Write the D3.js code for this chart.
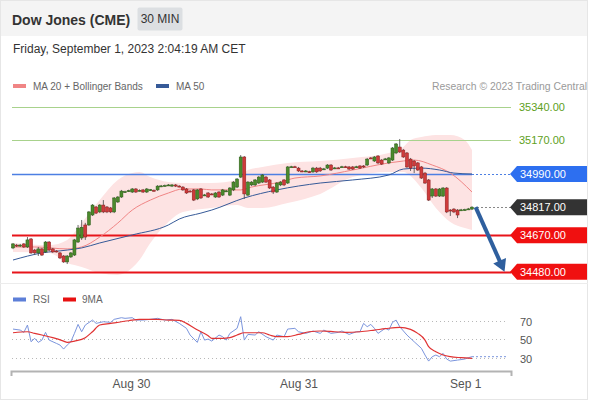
<!DOCTYPE html>
<html><head><meta charset="utf-8">
<script src="https://cdn.jsdelivr.net/npm/d3@7"></script>
<style>
body{margin:0;background:#fff;}
svg{display:block;font-family:"Liberation Sans",Arial,Helvetica,sans-serif;}
</style></head><body>
<svg id="c" width="590" height="400"></svg>
<script>
// ---------- DATA ----------
const titleText = "Dow Jones (CME)";
const periodText = "30 MIN";
const dateText = "Friday, September 1, 2023 2:04:19 AM CET";
const legendMain = ["MA 20 + Bollinger Bands", "MA 50"];
const legendRsi = ["RSI", "9MA"];
const creditText = "Research \u00a9 2023 Trading Central";

const tickIdx = [32.65, 79, 125.1];
const tickLabels = ["Aug 30", "Aug 31", "Sep 1"];

const open = [34604,34619,34614,34625,34609,34651,34593,34578,34599,34583,
34635,34599,34588,34578,34562,34531,34557,34567,34635,34656,
34724,34724,34776,34818,34792,34828,34818,34813,34792,34844,
34870,34896,34901,34896,34912,34904,34907,34896,34907,34905,
34907,34927,34929,34932,34927,34933,34927,34922,34912,34901,
34907,34860,34912,34880,34891,34886,34870,34896,34880,34901,
34880,34907,34922,34974,35079,34880,34933,34933,34943,34948,
34974,34959,34922,34896,34933,34959,34943,35027,35028,35021,
35006,35005,35002,35001,35021,35021,35016,35021,35037,35021,
35022,35027,35028,35027,35027,35027,35032,35032,35037,35074,
35058,35084,35063,35068,35048,35063,35100,35131,35115,35100,
35068,35058,35048,35027,34995,34959,34875,34912,34875,34875,
34917,34802,34807,34802,34802,34803,34807,34807];
const close = [34625,34614,34619,34609,34646,34578,34578,34599,34567,34635,
34593,34583,34586,34552,34531,34562,34578,34646,34708,34712,
34661,34792,34828,34786,34828,34792,34792,34792,34865,34870,
34901,34898,34903,34912,34896,34905,34896,34912,34908,34904,
34927,34928,34930,34933,34933,34927,34926,34907,34891,34900,
34854,34907,34865,34881,34870,34885,34891,34870,34907,34902,
34917,34948,34964,35079,34886,34948,34948,34959,34974,34985,
34948,34917,34896,34943,34948,34933,35027,35028,35027,35006,
35005,35006,35001,35021,35001,35006,35017,35037,35011,35022,
35021,35028,35027,35016,35016,35028,35021,35027,35068,35073,
35079,35048,35042,35069,35074,35126,35147,35105,35079,35027,
35021,35032,35011,34969,34943,34854,34912,34875,34912,34917,
34792,34801,34792,34776,34803,34804,34808,34817];
const high = [34630,34625,34625,34630,34661,34656,34599,34609,34604,34640,
34640,34604,34593,34583,34567,34567,34583,34651,34724,34750,
34735,34797,34833,34823,34833,34854,34823,34818,34870,34875,
34907,34903,34908,34917,34917,34910,34912,34917,34912,34910,
34932,34933,34935,34938,34938,34938,34932,34927,34917,34907,
34912,34912,34917,34886,34896,34891,34896,34901,34912,34907,
34922,34953,34969,35089,35084,34953,34953,34964,34980,34990,
34980,34964,34927,34948,34953,34964,35032,35033,35033,35027,
35011,35011,35007,35027,35027,35027,35022,35042,35042,35027,
35027,35033,35033,35032,35032,35033,35037,35037,35074,35079,
35084,35089,35068,35074,35079,35131,35152,35173,35121,35105,
35074,35063,35053,35032,35001,34964,34917,34917,34917,34922,
34922,34807,34812,34807,34808,34809,34813,34822];
const low = [34598,34609,34609,34604,34604,34573,34567,34562,34562,34578,
34588,34578,34580,34546,34526,34520,34552,34562,34630,34646,
34646,34719,34771,34781,34786,34786,34786,34786,34786,34839,
34865,34891,34896,34891,34891,34899,34891,34891,34902,34899,
34902,34922,34925,34928,34922,34922,34921,34902,34886,34895,
34849,34854,34860,34875,34865,34880,34865,34865,34875,34896,
34875,34901,34917,34969,34860,34875,34927,34927,34938,34943,
34943,34912,34886,34891,34927,34927,34938,35022,35022,35001,
35000,35000,34996,34996,34996,35001,35011,35016,35006,35016,
35016,35022,35022,35011,35011,35022,35016,35022,35032,35068,
35053,35042,35037,35063,35042,35058,35094,35100,35074,35021,
35006,34995,35006,34964,34938,34849,34865,34870,34870,34870,
34786,34771,34786,34760,34797,34798,34802,34802];

const ma50Idx = [0,8,15,19,24,33,43,46,52,55,64,73,85,94,104,108,113,118,122,127];
const ma50Val = [34541,34578,34593,34604,34630,34672,34724,34755,34786,34802,34865,34907,34943,34959,34985,35016,35021,35011,34995,34990];

const ma20Idx = [0,6,15,19,24,29,33,38,43,47,52,55,63,66,74,78,85,94,104,108,111,116,121,127];
const ma20Val = [34609,34609,34599,34609,34661,34734,34802,34854,34891,34912,34912,34907,34907,34922,34948,34969,34980,35011,35048,35058,35063,35037,34995,34896];

const bbIdx = [0,10,15,19,24,29,33,35,38,43,47,55,62,65,69,76,85,94,104,108,110,113,117,121,125,127];
const bbUpper = [34630,34619,34646,34734,34854,34959,34995,35001,34974,34948,34943,34943,34959,35011,35027,35048,35058,35074,35100,35131,35168,35183,35194,35194,35168,35115];
const bbLower = [34583,34578,34525,34505,34473,34463,34500,34541,34630,34740,34792,34813,34828,34813,34813,34839,34886,34974,35001,35001,34980,34917,34813,34740,34708,34698];

const rsiIdx = [0,2,3,4,5,6,7,8,9,10,12,13,14,15,16,17,18,19,20,22,23,25,27,28,30,31,33,34,36,38,40,42,44,46,48,49,51,52,53,54,55,57,58,59,60,62,63,64,65,67,68,70,72,73,75,76,78,79,81,83,85,86,88,90,91,93,95,96,97,98,99,100,101,103,104,105,106,107,109,111,113,114,115,116,117,118,119,120,121,123,125,126,127];
const rsiVal = [61.2,60.1,57.6,65.6,47.4,51.1,46.7,49.2,57.6,49.2,45.6,43.8,39.4,43.8,47.4,56.5,66.3,58.3,65.6,71.0,67.4,69.2,68.5,71.8,73.6,72.9,73.6,71.0,71.0,71.8,72.9,71.0,71.8,67.4,62.0,54.7,46.7,58.3,49.2,50.3,48.1,54.7,52.9,49.2,56.5,62.0,74.7,49.2,55.4,54.7,58.3,52.9,49.2,54.7,52.9,61.2,62.0,58.3,56.5,59.1,56.5,60.1,56.5,57.6,59.1,55.4,58.3,58.3,67.4,63.8,66.3,62.0,56.5,62.0,60.1,68.5,71.0,63.8,54.7,47.4,40.2,32.9,26.3,31.1,32.9,31.1,34.7,28.5,26.3,27.4,28.5,30.0,31.1];

const ma9Idx = [0,4,6,8,11,14,15,17,20,22,24,27,32,35,40,43,46,48,50,52,54,55,58,60,62,64,67,69,71,73,76,79,82,85,89,92,96,100,103,107,110,112,114,115,117,119,121,124,127];
const ma9Val = [57.2,58.3,56.5,54.7,51.8,48.1,46.7,48.1,51.8,58.3,65.6,67.4,70.3,71.8,71.8,71.0,70.7,67.4,62.7,58.3,54.0,51.1,51.1,51.8,54.7,57.2,57.2,57.2,54.7,52.9,52.9,55.4,58.3,59.1,58.3,57.6,58.3,60.1,61.6,63.1,60.9,56.5,49.2,42.0,36.5,32.9,31.1,30.0,29.2];

const levelPrices = [35340, 35170, 34990, 34817, 34670, 34480];
const levelKinds  = ["resist", "resist", "pivot", "last", "support", "support"];
const rsiLevels = [70, 50, 30];
const arrowFrom = [128, 34817];
const arrowTo = [136, 34480];

// ---------- DRAW ----------
const svg = d3.select("#c");
const FONT = '"Liberation Sans",Arial,Helvetica,sans-serif';

svg.append("rect").attr("x",0).attr("y",0).attr("width",590).attr("height",400).attr("fill","#fff");
svg.append("rect").attr("x",0).attr("y",0).attr("width",588).attr("height",36).attr("fill","#f4f4f4");
svg.append("rect").attr("x",0.5).attr("y",0.5).attr("width",587).attr("height",399)
  .attr("fill","none").attr("stroke","#e6e6e6");

svg.append("text").attr("x",12).attr("y",25).attr("font-size",14).attr("font-weight","bold")
  .attr("fill","#333").text(titleText);
svg.append("rect").attr("x",137.5).attr("y",7.5).attr("width",45).attr("height",23).attr("rx",2)
  .attr("fill","#dcdfe2");
svg.append("text").attr("x",160).attr("y",23.3).attr("text-anchor","middle").attr("font-size",12)
  .attr("fill","#333").text(periodText);
svg.append("text").attr("x",13).attr("y",52.5).attr("font-size",12).attr("fill","#333").text(dateText);

// legend
svg.append("rect").attr("x",13).attr("y",84).attr("width",13).attr("height",4).attr("fill","#f08585");
svg.append("text").attr("x",33).attr("y",89.5).attr("font-size",10).attr("fill","#666").text(legendMain[0]);
svg.append("rect").attr("x",156).attr("y",84).attr("width",13).attr("height",4).attr("fill","#365a98");
svg.append("text").attr("x",176).attr("y",89.5).attr("font-size",10).attr("fill","#666").text(legendMain[1]);
svg.append("text").attr("x",587).attr("y",89.5).attr("text-anchor","end").attr("font-size",10.4)
  .attr("fill","#9a9a9a").text(creditText);

// scales
const x = d3.scaleLinear().domain([0,127]).range([13,472]);
const y = d3.scaleLinear().domain([34480,35340]).range([271.7,107]);
const r = d3.scaleLinear().domain([30,70]).range([357.7,321]);
const XL = 12, XR = 511;

// Bollinger area
const bbData = bbIdx.map((d,i)=>({i:d,u:bbUpper[i],l:bbLower[i]}));
svg.append("path").datum(bbData)
  .attr("d", d3.area().x(d=>x(d.i)).y0(d=>y(d.l)).y1(d=>y(d.u)).curve(d3.curveMonotoneX))
  .attr("fill","#fde3e3");

// level lines
const lv = svg.append("g");
levelPrices.forEach((p,k)=>{
  const kind = levelKinds[k], yy = Math.round(y(p))+0.5;
  if (kind==="resist") {
    lv.append("line").attr("x1",XL).attr("x2",XR).attr("y1",yy).attr("y2",yy)
      .attr("stroke","#a8d28c").attr("stroke-width",1);
  } else if (kind==="pivot") {
    lv.append("line").attr("x1",XL).attr("x2",x(127)).attr("y1",yy).attr("y2",yy)
      .attr("stroke","#4d7fe3").attr("stroke-width",1.5);
    lv.append("line").attr("x1",x(127)).attr("x2",XR).attr("y1",yy).attr("y2",yy)
      .attr("stroke","#4d7fe3").attr("stroke-width",1.2).attr("stroke-dasharray","2,2");
  } else if (kind==="last") {
    lv.append("line").attr("x1",x(127)+5).attr("x2",XR).attr("y1",yy).attr("y2",yy)
      .attr("stroke","#888").attr("stroke-width",1).attr("stroke-dasharray","2,2");
  } else {
    lv.append("line").attr("x1",XL).attr("x2",XR).attr("y1",yy).attr("y2",yy)
      .attr("stroke","#e8141a").attr("stroke-width",2);
  }
});

// MA lines
const lineGen = d3.line().x(d=>x(d[0])).y(d=>y(d[1])).curve(d3.curveMonotoneX);
svg.append("path").datum(ma20Idx.map((d,i)=>[d,ma20Val[i]])).attr("d",lineGen)
  .attr("fill","none").attr("stroke","#f08585").attr("stroke-width",1);
svg.append("path").datum(ma50Idx.map((d,i)=>[d,ma50Val[i]])).attr("d",lineGen)
  .attr("fill","none").attr("stroke","#365a98").attr("stroke-width",1);

// candles
const cg = svg.append("g");
open.forEach((o,i)=>{
  const c = close[i], up = c >= o;
  const cx = x(i);
  cg.append("line").attr("x1",cx).attr("x2",cx).attr("y1",y(high[i])).attr("y2",y(low[i]))
    .attr("stroke","#444").attr("stroke-width",0.8);
  const top = y(Math.max(o,c)), bot = y(Math.min(o,c));
  cg.append("rect").attr("x",cx-1.5).attr("width",3).attr("y",top).attr("height",Math.max(1,bot-top))
    .attr("fill", up ? "#4b8a2c" : "#cf3b3b")
    .attr("stroke", up ? "#2b5a18" : "#8a1e1e").attr("stroke-width",0.5);
});

// forecast arrow
(function(){
  const x1 = x(arrowFrom[0]), y1 = y(arrowFrom[1]), x2 = x(arrowTo[0]), y2 = y(arrowTo[1]);
  const dx = x2-x1, dy = y2-y1, L = Math.hypot(dx,dy), ux = dx/L, uy = dy/L;
  const hl = 12, hw = 7;
  svg.append("line").attr("x1",x1).attr("y1",y1).attr("x2",x2-ux*(hl-2)).attr("y2",y2-uy*(hl-2))
    .attr("stroke","#2f5f9e").attr("stroke-width",4);
  const bx = x2-ux*hl, by = y2-uy*hl;
  svg.append("path").attr("d",`M${x2},${y2}L${bx-uy*hw},${by+ux*hw}L${bx+uy*hw},${by-ux*hw}Z`)
    .attr("fill","#2f5f9e");
})();

// price tags
levelPrices.forEach((p,k)=>{
  const kind = levelKinds[k], yy = y(p);
  const label = p.toFixed(2);
  if (kind==="resist") {
    svg.append("text").attr("x",519).attr("y",yy+4).attr("font-size",11).attr("fill","#5e9f22").text(label);
    return;
  }
  const fill = kind==="pivot" ? "#2d6ff0" : kind==="last" ? "#333333" : "#f01010";
  const h = 8;
  svg.append("path").attr("d",`M510,${yy}L517,${yy-h}L587,${yy-h}L587,${yy+h}L517,${yy+h}Z`).attr("fill",fill);
  svg.append("text").attr("x",520).attr("y",yy+4).attr("font-size",11).attr("fill","#fff").text(label);
});

// separator
svg.append("line").attr("x1",0).attr("x2",588).attr("y1",283.5).attr("y2",283.5).attr("stroke","#ececec");

// RSI legend
svg.append("rect").attr("x",13).attr("y",297.5).attr("width",13).attr("height",4).attr("fill","#5d7fd8");
svg.append("text").attr("x",33).attr("y",303).attr("font-size",10).attr("fill","#666").text(legendRsi[0]);
svg.append("rect").attr("x",63).attr("y",297.5).attr("width",13).attr("height",4).attr("fill","#e81010");
svg.append("text").attr("x",82).attr("y",303).attr("font-size",10).attr("fill","#666").text(legendRsi[1]);

// RSI levels
rsiLevels.forEach(v=>{
  const yy = Math.round(r(v))+0.5;
  svg.append("line").attr("x1",XL).attr("x2",508).attr("y1",yy).attr("y2",yy)
    .attr("stroke","#b8b8b8").attr("stroke-width",1).attr("stroke-dasharray","1,3");
  svg.append("text").attr("x",520).attr("y",yy+4).attr("font-size",11).attr("fill","#555").text(v);
});

// RSI lines
const rLine = d3.line().x(d=>x(d[0])).y(d=>r(d[1]));
svg.append("path").datum(rsiIdx.map((d,i)=>[d,rsiVal[i]])).attr("d",rLine)
  .attr("fill","none").attr("stroke","#7b95dd").attr("stroke-width",1);
const lastR = rsiVal[rsiVal.length-1];
svg.append("line").attr("x1",x(127)).attr("x2",508).attr("y1",r(lastR)).attr("y2",r(lastR))
  .attr("stroke","#7b95dd").attr("stroke-width",1).attr("stroke-dasharray","2,2");
svg.append("path").datum(ma9Idx.map((d,i)=>[d,ma9Val[i]]))
  .attr("d",d3.line().x(d=>x(d[0])).y(d=>r(d[1])).curve(d3.curveMonotoneX))
  .attr("fill","none").attr("stroke","#e03333").attr("stroke-width",1.2);

// x axis
const xa = d3.scaleLinear().domain([x.invert(11), x.invert(511)]).range([11,511]);
const ax = svg.append("g").attr("transform","translate(0,371)")
  .call(d3.axisBottom(xa).tickValues(tickIdx).tickFormat((d,i)=>tickLabels[i])
    .tickSizeInner(0).tickSizeOuter(5).tickPadding(8));
ax.select(".domain").attr("stroke","#b3b3b3").attr("stroke-width",2);
ax.selectAll(".tick line").remove();
ax.selectAll("text").attr("font-size",12).attr("fill","#555").attr("font-family",FONT);
</script>
</body></html>
